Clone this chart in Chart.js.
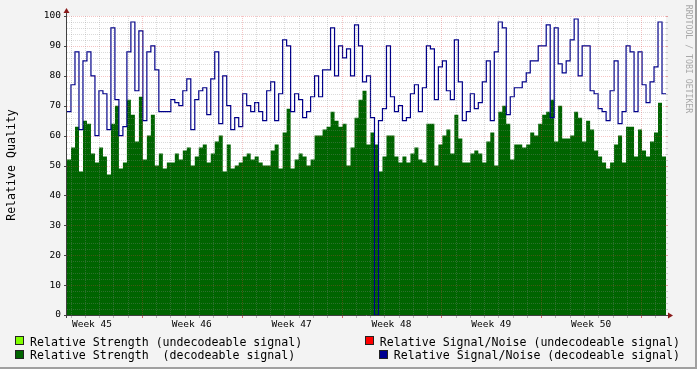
<!DOCTYPE html>
<html><head><meta charset="utf-8">
<script src="https://cdn.jsdelivr.net/npm/chart.js@4/dist/chart.umd.min.js"></script>
<style>
html,body{margin:0;padding:0;background:#f3f3f3;}
#wrap{position:relative;width:697px;height:369px;overflow:hidden;background:#f3f3f3;font-family:"DejaVu Sans Mono",monospace;color:#000;}
#c{position:absolute;left:0;top:0;}
.lg{position:absolute;font-size:11.6px;line-height:14px;white-space:pre;}
.box{position:absolute;width:7px;height:7px;border:1px solid #222;}
#ytitle{position:absolute;width:200px;left:-89px;top:158px;font-size:11.6px;line-height:14px;text-align:center;transform:rotate(-90deg);white-space:pre;}
#wm{position:absolute;width:160px;left:609px;top:54px;font-size:8.2px;line-height:10px;text-align:center;transform:rotate(90deg);color:#a8a8a8;white-space:pre;}
#fr{position:absolute;right:0;top:0;width:2px;height:369px;background:#a0a0a0;}
#fb{position:absolute;left:0;bottom:0;width:697px;height:2px;background:#a0a0a0;}
</style></head>
<body><div id="wrap">
<canvas id="c" width="697" height="369"></canvas>
<div id="ytitle">Relative Quality</div>
<div id="wm">RRDTOOL / TOBI OETIKER</div>
<div class="box" style="left:15px;top:336px;background:#80ff00"></div>
<div class="lg" style="left:30px;top:334.5px">Relative Strength (undecodeable signal)</div>
<div class="box" style="left:15px;top:350px;background:#006400"></div>
<div class="lg" style="left:30px;top:348px">Relative Strength  (decodeable signal)</div>
<div class="box" style="left:365px;top:336px;background:#ff0000"></div>
<div class="lg" style="right:17px;top:334.5px">Relative Signal/Noise (undecodeable signal)</div>
<div class="box" style="left:379px;top:350px;background:#000090"></div>
<div class="lg" style="right:17px;top:348px">Relative Signal/Noise (decodeable signal)</div>
<div id="fr"></div><div id="fb"></div>
</div>
<script>
// time axis in hours from the start of the graph
const TOTAL_HOURS = 1008;
const weekTicks = [42, 210, 378, 546, 714, 882];
const weekLabels = ['Week 45','Week 46','Week 47','Week 48','Week 49','Week 50'];
const dayStart = 6, weekStart = 126;

// Relative Signal/Noise (decodeable signal)
const snDecodeable = [
 68,77,88,62,85,88,80,60,75,74,62,96,72,60,63,88,98,75,95,65,88,90,82,68,68,
 68,72,71,70,75,79,62,72,75,76,67,79,88,64,80,70,62,66,63,74,70,68,71,68,65,
 75,78,65,74,92,90,68,74,72,66,68,73,80,73,82,82,96,80,90,86,89,80,97,90,78,
 80,66,0,65,69,90,73,68,70,65,66,74,77,68,76,90,89,72,83,85,75,72,92,78,65,
 68,74,69,71,78,85,65,88,98,96,67,73,76,76,78,81,85,85,90,90,97,66,96,84,81,
 85,92,99,80,90,90,75,74,69,68,65,75,85,64,68,90,88,68,88,77,71,78,83,98,74
];
// Relative Strength (decodeable signal)
const strengthDecodeable = [
 52,56,63,48,65,64,54,51,56,53,47,64,70,49,51,72,67,58,73,52,60,67,50,54,49,
 51,51,54,52,55,56,50,53,56,57,51,54,58,60,48,57,49,50,51,53,54,52,53,51,50,
 50,55,57,49,61,69,49,52,54,53,50,52,60,60,62,63,68,65,63,64,50,56,66,72,75,
 57,61,57,48,53,60,60,53,51,53,51,54,56,52,51,64,64,50,57,60,62,54,67,59,51,
 51,54,55,54,51,58,61,50,68,70,64,52,57,57,56,57,61,60,64,67,68,72,58,70,59,
 59,60,68,66,58,65,62,55,53,51,49,51,57,60,51,63,63,53,62,55,53,58,61,71,53
];

const step = TOTAL_HOURS / snDecodeable.length;
function toPoints(arr){
  const pts = arr.map((v,i)=>({x:i*step, y:v}));
  pts.push({x:arr.length*step, y:arr[arr.length-1]});
  return pts;
}

const gridPlugin = {
  id:'rrdgrid',
  afterDatasetsDraw(chart){
    const {ctx, chartArea:{left,right,top,bottom}, scales:{x,y}} = chart;
    ctx.save();
    ctx.lineWidth = 1;
    ctx.setLineDash([1,1]);
    const minorC = 'rgba(140,140,140,0.32)', majorC = 'rgba(225,60,60,0.3)';
    for (let v = 2; v <= 100; v += 2){
      const py = Math.round(y.getPixelForValue(v)) + 0.5;
      ctx.strokeStyle = (v % 10 === 0) ? majorC : minorC;
      ctx.beginPath(); ctx.moveTo(left, py); ctx.lineTo(right, py); ctx.stroke();
    }
    for (let h = dayStart; h < TOTAL_HOURS; h += 24){
      const px = Math.round(x.getPixelForValue(h)) + 0.5;
      ctx.strokeStyle = ((h - weekStart) % 168 === 0) ? majorC : minorC;
      ctx.beginPath(); ctx.moveTo(px, top); ctx.lineTo(px, bottom); ctx.stroke();
    }
    ctx.setLineDash([]);
    // small ticks
    for (let v = 0; v <= 100; v += 2){
      const py = Math.round(y.getPixelForValue(v)) + 0.5;
      const major = v % 10 === 0;
      ctx.strokeStyle = major ? 'rgba(200,60,60,0.45)' : 'rgba(150,150,150,0.45)';
      ctx.beginPath(); ctx.moveTo(right, py); ctx.lineTo(right + 2, py); ctx.stroke();
      if (major){
        ctx.strokeStyle = '#444';
        ctx.beginPath(); ctx.moveTo(left - 3, py); ctx.lineTo(left, py); ctx.stroke();
      }
    }
    for (let h = dayStart; h < TOTAL_HOURS; h += 24){
      const px = Math.round(x.getPixelForValue(h)) + 0.5;
      const major = (h - weekStart) % 168 === 0;
      ctx.strokeStyle = major ? 'rgba(200,50,50,0.7)' : 'rgba(130,130,130,0.55)';
      ctx.beginPath(); ctx.moveTo(px, bottom); ctx.lineTo(px, bottom + 3); ctx.stroke();
    }
    // axes
    ctx.strokeStyle = '#404040';
    const ax = Math.round(left) - 0.5, ay = Math.round(bottom) + 0.5;
    ctx.beginPath(); ctx.moveTo(ax, bottom + 3); ctx.lineTo(ax, top - 4); ctx.stroke();
    ctx.beginPath(); ctx.moveTo(left - 3, ay); ctx.lineTo(right + 3, ay); ctx.stroke();
    ctx.fillStyle = '#8a1a1a';
    ctx.beginPath(); ctx.moveTo(ax - 3, top - 3); ctx.lineTo(ax + 3, top - 3); ctx.lineTo(ax, top - 8); ctx.closePath(); ctx.fill();
    ctx.beginPath(); ctx.moveTo(right + 2, ay - 3); ctx.lineTo(right + 2, ay + 3); ctx.lineTo(right + 7, ay); ctx.closePath(); ctx.fill();
    ctx.restore();
  }
};

const plotBg = {
  id:'plotbg',
  beforeDatasetsDraw(chart){
    const {ctx, chartArea:{left,right,top,bottom}} = chart;
    ctx.save(); ctx.fillStyle = '#ffffff';
    ctx.fillRect(left, top, right - left, bottom - top);
    ctx.restore();
  }
};

const tickFont = {family:'DejaVu Sans Mono', size:9.5};
new Chart(document.getElementById('c'), {
  type:'line',
  data:{datasets:[
    {label:'Relative Signal/Noise (decodeable signal)', data:toPoints(snDecodeable), stepped:true,
     borderColor:'#00008a', borderWidth:1.2, pointRadius:0, fill:false},
    {label:'Relative Strength (decodeable signal)', data:toPoints(strengthDecodeable), stepped:true,
     backgroundColor:'#006400', borderWidth:0, borderColor:'rgba(0,0,0,0)', pointRadius:0, fill:'origin'}
  ]},
  options:{
    responsive:false, animation:false, devicePixelRatio:1,
    layout:{padding:{left:0, top:16, right:31, bottom:0}},
    plugins:{legend:{display:false}, tooltip:{enabled:false}},
    scales:{
      x:{type:'linear', min:0, max:TOTAL_HOURS,
         grid:{display:false, drawTicks:false}, border:{display:false},
         afterBuildTicks:(s)=>{ s.ticks = weekTicks.map(v=>({value:v})); },
         afterFit:(s)=>{ s.height = 54; },
         ticks:{autoSkip:false, maxRotation:0, font:tickFont, color:'#000', padding:4,
                callback:(v)=> weekLabels[weekTicks.indexOf(v)] }},
      y:{min:0, max:100,
         grid:{display:false, drawTicks:false}, border:{display:false},
         afterFit:(s)=>{ s.width = 67; },
         ticks:{stepSize:10, font:tickFont, color:'#000', padding:6}}
    }
  },
  plugins:[plotBg, gridPlugin]
});
</script>
</body></html>
